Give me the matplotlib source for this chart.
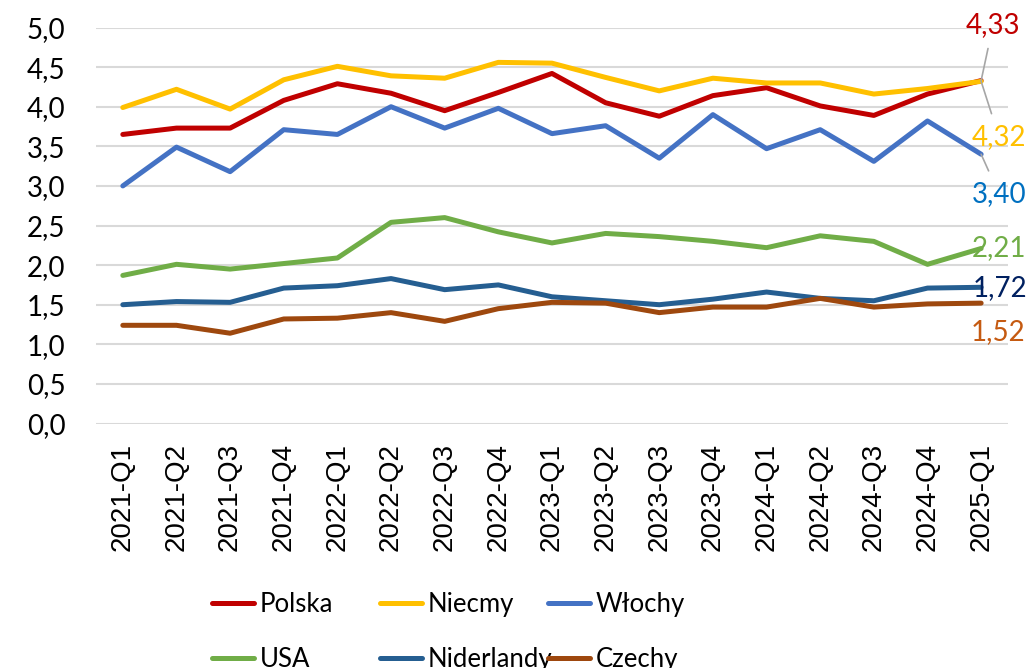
import matplotlib.pyplot as plt

plt.rcParams['font.family'] = ['Lato', 'DejaVu Sans']

quarters = ['2021-Q1', '2021-Q2', '2021-Q3', '2021-Q4',
            '2022-Q1', '2022-Q2', '2022-Q3', '2022-Q4',
            '2023-Q1', '2023-Q2', '2023-Q3', '2023-Q4',
            '2024-Q1', '2024-Q2', '2024-Q3', '2024-Q4', '2025-Q1']

polska = [3.65, 3.73, 3.73, 4.08, 4.29, 4.17, 3.95, 4.18, 4.42,
          4.05, 3.88, 4.14, 4.24, 4.01, 3.89, 4.16, 4.33]
niemcy = [3.99, 4.22, 3.97, 4.34, 4.51, 4.39, 4.36, 4.56, 4.55,
          4.37, 4.20, 4.36, 4.30, 4.30, 4.16, 4.23, 4.32]
wlochy = [3.00, 3.49, 3.18, 3.71, 3.65, 4.00, 3.73, 3.98, 3.66,
          3.76, 3.35, 3.90, 3.47, 3.71, 3.31, 3.82, 3.40]
usa = [1.87, 2.01, 1.95, 2.02, 2.09, 2.54, 2.60, 2.42, 2.28,
       2.40, 2.36, 2.30, 2.22, 2.37, 2.30, 2.01, 2.21]
niderlandy = [1.50, 1.54, 1.53, 1.71, 1.74, 1.83, 1.69, 1.75, 1.60,
              1.55, 1.50, 1.57, 1.66, 1.58, 1.55, 1.71, 1.72]
czechy = [1.24, 1.24, 1.14, 1.32, 1.33, 1.40, 1.29, 1.45, 1.53,
          1.52, 1.40, 1.47, 1.47, 1.58, 1.47, 1.51, 1.52]

# name, values, line colour, label colour, label offset (pixels)
series = [
    ('Polska', polska, '#C00000', '#C00000', (12, 56)),
    ('Niecmy', niemcy, '#FFC000', '#FFC000', (18, -56)),
    ('Włochy', wlochy, '#4472C4', '#0070C0', (18, -40)),
    ('USA', usa, '#70AD47', '#70AD47', (18, 0)),
    ('Niderlandy', niderlandy, '#255E91', '#002060', (19, -1)),
    ('Czechy', czechy, '#9E480E', '#C55A11', (17, -29)),
]

fig = plt.figure(figsize=(10.30, 6.68), dpi=100)
ax = fig.add_axes([0.0932, 0.366, 0.8854, 0.5928])

x = list(range(len(quarters)))
lines = []
for name, vals, color, lab_color, off in series:
    ln, = ax.plot(x, vals, color=color, lw=3.6, label=name, solid_capstyle='round')
    lines.append(ln)

# data labels for the last point
for name, vals, color, lab_color, off in series:
    lead = name in ('Polska', 'Niecmy', 'Włochy')
    ax.annotate(f'{vals[-1]:.2f}'.replace('.', ','),
                xy=(x[-1], vals[-1]), xytext=off, textcoords='offset pixels',
                ha='center', va='center', fontsize=20, color=lab_color,
                annotation_clip=False,
                arrowprops=dict(arrowstyle='-', color='#A6A6A6', lw=1.2,
                                shrinkA=6, shrinkB=0) if lead else None)

ax.set_xlim(-0.5, len(quarters) - 0.5)
ax.set_ylim(0, 5)
ax.set_yticks([i * 0.5 for i in range(11)])
ax.set_yticklabels([f'{i * 0.5:.1f}'.replace('.', ',') for i in range(11)])
ax.set_xticks(x)
ax.set_xticklabels(quarters, rotation=90, family=['Liberation Sans'])
ax.tick_params(axis='both', length=0, colors='black')
ax.tick_params(axis='y', labelsize=20, pad=22)
ax.tick_params(axis='x', labelsize=20, pad=14)
ax.grid(axis='y', color='#D9D9D9', lw=1.5)
ax.set_axisbelow(True)
for s in ax.spines.values():
    s.set_visible(False)

# legend: three columns, two rows (row-wise order like the original)
col_x = [0.2058, 0.369, 0.532]
for i, cx in enumerate(col_x):
    fig.legend(handles=[lines[i], lines[i + 3]], loc='upper left',
               bbox_to_anchor=(cx, 0.1145), frameon=False, fontsize=18.5,
               borderpad=0, borderaxespad=0, handlelength=1.65,
               handletextpad=0.2, labelspacing=1.2)

fig.savefig('out.png', dpi=100)
